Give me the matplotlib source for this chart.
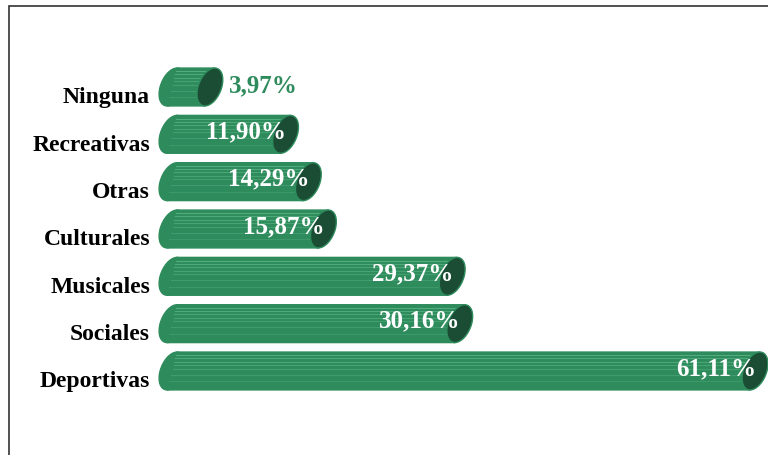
import numpy as np
import matplotlib.pyplot as plt
from matplotlib.patches import Ellipse, Rectangle
from matplotlib.transforms import Affine2D

categorias = ["Ninguna", "Recreativas", "Otras", "Culturales", "Musicales", "Sociales", "Deportivas"]
valores = [3.97, 11.90, 14.29, 15.87, 29.37, 30.16, 61.11]
etiquetas = ["3,97%", "11,90%", "14,29%", "15,87%", "29,37%", "30,16%", "61,11%"]

verde = "#2e8b5c"
verde_claro = "#5cb587"
verde_osc = "#1b4d35"

plt.rcParams["font.family"] = ["Liberation Serif", "DejaVu Serif"]

fig = plt.figure(figsize=(7.68, 4.55), dpi=100)
ax = fig.add_axes([0, 0, 1, 1])
ax.set_xlim(-18.03, 62.47)
ax.set_ylim(7.775, -1.838)
ax.axis("off")

h = 0.8
ew = 2.5
sesgo = np.degrees(np.arctan(-1.3))  # inclinacion de las tapas

for i, v in enumerate(valores):
    tr = Affine2D().skew_deg(sesgo, 0).translate(0, i) + ax.transData
    # tapa izquierda y cuerpo
    ax.add_patch(Ellipse((0, 0), ew, h, color=verde, transform=tr, zorder=2))
    ax.add_patch(Rectangle((0, -h / 2), v, h, color=verde, transform=tr, zorder=2))
    # rayas claras
    for k, dy in enumerate([-0.33, -0.27, -0.2, -0.12, -0.05, 0.08, 0.22]):
        ax.plot([0, v], [dy, dy], color=verde_claro, lw=0.8,
                alpha=0.8 - 0.08 * k, transform=tr, zorder=3)
    # tapa derecha
    ax.add_patch(Ellipse((v, 0), ew, h, facecolor=verde_osc,
                         edgecolor=verde, lw=1, transform=tr, zorder=4))
    if i == 0:
        ax.text(v + 2.0, i - 0.03, etiquetas[i], color=verde, fontsize=18,
                fontweight="bold", ha="left", va="center", zorder=5)
    else:
        ax.text(v + 0.1, i - 0.05, etiquetas[i], color="white", fontsize=18,
                fontweight="bold", ha="right", va="center", zorder=5)
    ax.text(-2.3, i + 0.23, categorias[i], color="black", fontsize=17,
            fontweight="bold", ha="right", va="center")

fig.patches.append(Rectangle((8.5 / 768, -0.1), 1.2, 1 - 6.5 / 455 + 0.1,
                             transform=fig.transFigure, fill=False,
                             edgecolor="#333333", lw=1.2))

fig.savefig("out.png", dpi=100)
